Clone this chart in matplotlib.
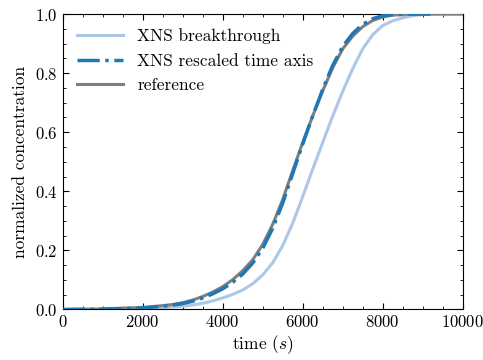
import matplotlib
matplotlib.use('Agg')
import matplotlib.pyplot as plt
from matplotlib.ticker import MultipleLocator

# Breakthrough curves sampled on a common time grid (s)
time = [0, 1000, 2000, 2500, 2750, 3000, 3250, 3500, 3750, 4000, 4250, 4500,
        4750, 5000, 5250, 5500, 5750, 6000, 6250, 6500, 6750, 7000, 7250,
        7500, 7750, 8000, 8250, 8500, 8750, 9000, 9250, 9500, 10000]

xns_breakthrough = [0.0, 0.0005, 0.003, 0.006, 0.008, 0.011, 0.015, 0.021,
                    0.029, 0.039, 0.051, 0.066, 0.087, 0.117, 0.158, 0.216,
                    0.292, 0.382, 0.475, 0.565, 0.655, 0.738, 0.815, 0.882,
                    0.93, 0.961, 0.977, 0.987, 0.994, 0.998, 0.999, 1.0, 1.0]

reference = [0.0, 0.002, 0.007, 0.013, 0.017, 0.023, 0.032, 0.044, 0.059,
             0.077, 0.101, 0.131, 0.168, 0.220, 0.288, 0.372, 0.47, 0.565,
             0.655, 0.74, 0.818, 0.882, 0.925, 0.957, 0.978, 0.99, 0.996,
             0.998, 0.999, 1.0, 1.0, 1.0, 1.0]

# XNS curve on the rescaled time axis (stops short of 10000)
time_rescaled = [0, 1000, 2000, 2500, 2750, 3000, 3250, 3500, 3750, 4000,
                 4250, 4500, 4750, 5000, 5250, 5500, 5750, 6000, 6250, 6500,
                 6750, 7000, 7250, 7500, 7750, 8000, 8250, 8500, 8750, 9200]
xns_rescaled = [0.0, 0.001, 0.005, 0.011, 0.015, 0.02, 0.028, 0.039, 0.053,
                0.07, 0.092, 0.12, 0.157, 0.207, 0.275, 0.36, 0.46, 0.56,
                0.655, 0.745, 0.826, 0.89, 0.934, 0.965, 0.984, 0.994, 0.998,
                0.999, 1.0, 1.0]

plt.rcParams['font.family'] = 'cmr10'
plt.rcParams['mathtext.fontset'] = 'cm'
plt.rcParams['axes.formatter.use_mathtext'] = True
plt.rcParams['font.size'] = 12.5

fig = plt.figure(figsize=(4.83, 3.6), dpi=100)
ax = fig.add_axes([0.1298, 0.1403, 0.8282, 0.8208])

ax.plot(time, xns_breakthrough, color='#aec7e8', lw=2.2,
        label='XNS breakthrough', zorder=2)
ax.plot(time_rescaled, xns_rescaled, color='#1f77b4', lw=2.5, ls='-.',
        label='XNS rescaled time axis', zorder=4)
ax.plot(time, reference, color='#7f7f7f', lw=2.2,
        label='reference', zorder=3)

ax.set_xlim(0, 10000)
ax.set_ylim(0, 1)
ax.set_xlabel('time ($s$)', labelpad=2)
ax.set_ylabel('normalized concentration', labelpad=5)

ax.xaxis.set_major_locator(MultipleLocator(2000))
ax.xaxis.set_minor_locator(MultipleLocator(500))
ax.yaxis.set_major_locator(MultipleLocator(0.2))
ax.yaxis.set_minor_locator(MultipleLocator(0.05))
ax.tick_params(which='both', direction='in', top=True, right=True,
               labelsize=12)
ax.tick_params(which='major', length=4, width=0.8)
ax.tick_params(which='minor', length=2, width=0.6)

ax.legend(loc='upper left', frameon=False, handlelength=2.7,
          handletextpad=0.8, borderaxespad=0.4, labelspacing=0.55)

fig.savefig('out.png', dpi=100)
